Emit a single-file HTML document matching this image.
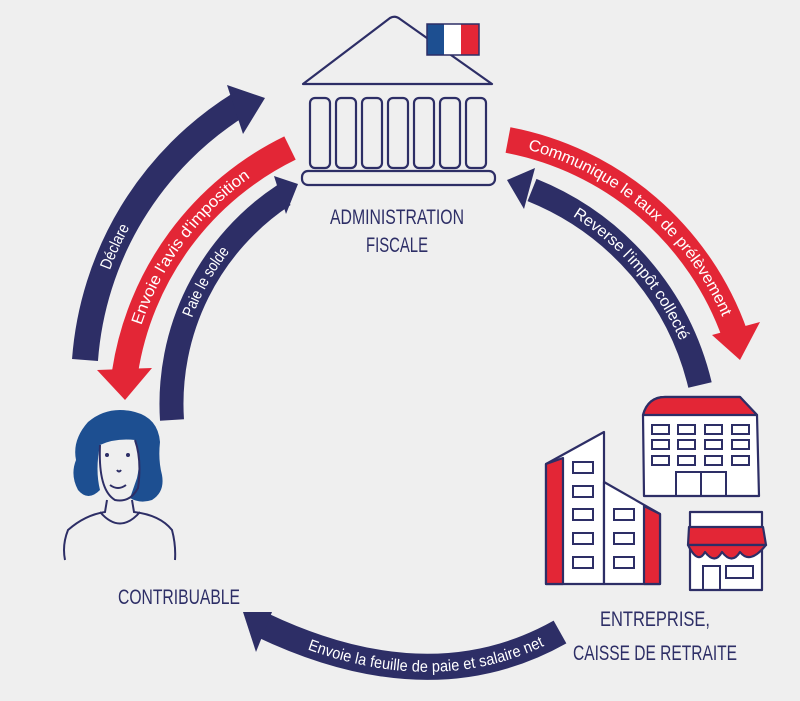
<!DOCTYPE html>
<html><head><meta charset="utf-8"><style>
html,body{margin:0;padding:0;background:#efefef;}
svg{display:block}
.t{font-family:"Liberation Sans Narrow","Liberation Sans",sans-serif;fill:#fff;font-size:16px}
.lbl{font-family:"Liberation Sans Narrow","Liberation Sans",sans-serif;fill:#2d2e66;font-size:21px;text-anchor:middle}
</style></head><body>
<svg width="800" height="701" viewBox="0 0 800 701" xmlns="http://www.w3.org/2000/svg">
<rect width="800" height="701" fill="#efefef"/>
<defs>
<path id="p1" d="M 85 360 A 330 330 0 0 1 240 104"/>
<path id="p2" d="M 125 372 A 300 300 0 0 1 290 148"/>
<path id="p3" d="M 172 420 A 250 250 0 0 1 284 195"/>
<path id="p4" d="M 508 140 A 300 300 0 0 1 735 335"/>
<path id="p5" d="M 532 190 A 280 280 0 0 1 700 385"/>
<path id="p6" d="M 262 625 Q 430 705 560 632"/>
</defs>
<g fill="none" stroke-width="26">
<use href="#p1" stroke="#2d2e66"/>
<use href="#p2" stroke="#e32636"/>
<use href="#p3" stroke="#2d2e66" stroke-width="24"/>
<use href="#p4" stroke="#e32636"/>
<use href="#p5" stroke="#2d2e66" stroke-width="24"/>
<use href="#p6" stroke="#2d2e66"/>
</g>
<polygon points="227,85 265,98 243,134" fill="#2d2e66"/>
<polygon points="97,370 125,400 152,368" fill="#e32636"/>
<polygon points="274,176 298,184 286,214" fill="#2d2e66"/>
<polygon points="712,335 740,360 760,322" fill="#e32636"/>
<polygon points="535,168 507,180 524,209" fill="#2d2e66"/>
<polygon points="272,612 243,612 256,652" fill="#2d2e66"/>
<text class="t" dy="5"><textPath href="#p1" startOffset="38%" text-anchor="middle" textLength="48" lengthAdjust="spacingAndGlyphs">Déclare</textPath></text>
<text class="t" dy="5"><textPath href="#p2" startOffset="50%" text-anchor="middle" textLength="190" lengthAdjust="spacingAndGlyphs">Envoie l'avis d'imposition</textPath></text>
<text class="t" dy="5"><textPath href="#p3" startOffset="55%" text-anchor="middle" textLength="78" lengthAdjust="spacingAndGlyphs">Paie le solde</textPath></text>
<text class="t" dy="5"><textPath href="#p4" startOffset="50%" text-anchor="middle" textLength="270" lengthAdjust="spacingAndGlyphs">Communique le taux de prélèvement</textPath></text>
<text class="t" dy="5"><textPath href="#p5" startOffset="50%" text-anchor="middle" textLength="170" lengthAdjust="spacingAndGlyphs">Reverse l'impôt collecté</textPath></text>
<text class="t" dy="5"><textPath href="#p6" startOffset="55%" text-anchor="middle" textLength="240" lengthAdjust="spacingAndGlyphs">Envoie la feuille de paie et salaire net</textPath></text>
<g fill="none" stroke="#2d2e66" stroke-width="2.2" stroke-linejoin="round">
<path d="M 303 84 L 390 18 Q 395 15 400 19 L 492 84 Z"/>
<rect x="310" y="98" width="20" height="70" rx="5"/>
<rect x="336" y="98" width="20" height="70" rx="5"/>
<rect x="362" y="98" width="20" height="70" rx="5"/>
<rect x="388" y="98" width="20" height="70" rx="5"/>
<rect x="414" y="98" width="20" height="70" rx="5"/>
<rect x="440" y="98" width="20" height="70" rx="5"/>
<rect x="466" y="98" width="20" height="70" rx="5"/>
<rect x="302" y="171" width="193" height="14" rx="6"/>
</g>
<rect x="427" y="24" width="17" height="31" fill="#1d4f91"/>
<rect x="444" y="24" width="17" height="31" fill="#fff"/>
<rect x="461" y="24" width="18" height="31" fill="#e32636"/>
<rect x="427" y="24" width="52" height="31" fill="none" stroke="#2d2e66" stroke-width="1.5"/>
<text class="lbl" x="397" y="224" textLength="134" lengthAdjust="spacingAndGlyphs">ADMINISTRATION</text>
<text class="lbl" x="397" y="252" textLength="62" lengthAdjust="spacingAndGlyphs">FISCALE</text>
<text class="lbl" x="179" y="604" textLength="122" lengthAdjust="spacingAndGlyphs">CONTRIBUABLE</text>
<text class="lbl" x="655" y="626" textLength="110" lengthAdjust="spacingAndGlyphs">ENTREPRISE,</text>
<text class="lbl" x="655" y="660" textLength="164" lengthAdjust="spacingAndGlyphs">CAISSE DE RETRAITE</text>
<!-- woman -->
<path d="M 88 422 Q 108 405 135 412 Q 158 418 160 442 Q 158 460 162 475 Q 165 492 152 500 Q 140 504 130 498 L 137 478 Q 142 455 135 440 Q 115 438 100 445 Q 95 470 100 490 Q 88 502 78 490 Q 70 475 76 460 Q 72 440 88 422 Z" fill="#1d4f91"/>
<g fill="none" stroke="#2d2e66" stroke-width="2">
<path d="M 100 445 Q 98 490 115 500 Q 130 503 138 488 Q 142 460 135 440"/>
<path d="M 107 500 L 105 512 Q 85 515 68 530 Q 62 545 65 560"/>
<path d="M 132 500 L 134 512 Q 160 515 172 530 Q 176 545 175 560"/>
<path d="M 100 512 Q 120 535 140 512"/>
<path d="M 110 485 Q 118 491 126 485"/>
<path d="M 117 470 Q 119 473 121 470"/>
</g>
<circle cx="107" cy="455" r="2" fill="#2d2e66"/><circle cx="128" cy="455" r="2" fill="#2d2e66"/>
<!-- buildings -->
<g stroke="#2d2e66" stroke-width="2.2" stroke-linejoin="round">
<path d="M 546 464 L 604 432 L 604 584 L 546 584 Z" fill="#fff"/>
<path d="M 546 464 L 563 458 L 563 584 L 546 584 Z" fill="#e32636"/>
<path d="M 604 482 L 660 514 L 660 584 L 604 584 Z" fill="#fff"/>
<path d="M 644 506 L 660 514 L 660 584 L 644 584 Z" fill="#e32636"/>
<path d="M 643 415 Q 648 397 665 397 L 740 397 L 757 415 L 759 496 L 644 496 Z" fill="#fff"/>
<path d="M 643 415 Q 648 397 665 397 L 740 397 L 757 415 Z" fill="#e32636"/>
<rect x="690" y="512" width="72" height="78" fill="#fff"/>
<path d="M 689 527 L 763 527 L 766 545 L 688 545 Z" fill="#e32636"/>
<path d="M 688 545 Q 698 565 705 552 Q 715 565 722 552 Q 732 565 740 552 Q 750 565 766 545 Z" fill="#e32636"/>
</g>
<g fill="none" stroke="#2d2e66" stroke-width="2">
<rect x="573" y="462" width="20" height="11"/><rect x="573" y="486" width="20" height="11"/><rect x="573" y="509" width="20" height="11"/><rect x="573" y="533" width="20" height="11"/><rect x="573" y="557" width="20" height="11"/>
<rect x="614" y="509" width="20" height="11"/><rect x="614" y="533" width="20" height="11"/><rect x="614" y="557" width="20" height="11"/>
<rect x="652" y="425" width="17" height="9"/><rect x="678" y="425" width="17" height="9"/><rect x="705" y="425" width="17" height="9"/><rect x="732" y="425" width="17" height="9"/>
<rect x="652" y="440" width="17" height="9"/><rect x="678" y="440" width="17" height="9"/><rect x="705" y="440" width="17" height="9"/><rect x="732" y="440" width="17" height="9"/>
<rect x="652" y="456" width="17" height="9"/><rect x="678" y="456" width="17" height="9"/><rect x="705" y="456" width="17" height="9"/><rect x="732" y="456" width="17" height="9"/>
<rect x="676" y="472" width="25" height="24"/><rect x="701" y="472" width="25" height="24"/>
<rect x="703" y="566" width="17" height="24"/><rect x="726" y="566" width="27" height="12"/>
</g>
</svg>
</body></html>
